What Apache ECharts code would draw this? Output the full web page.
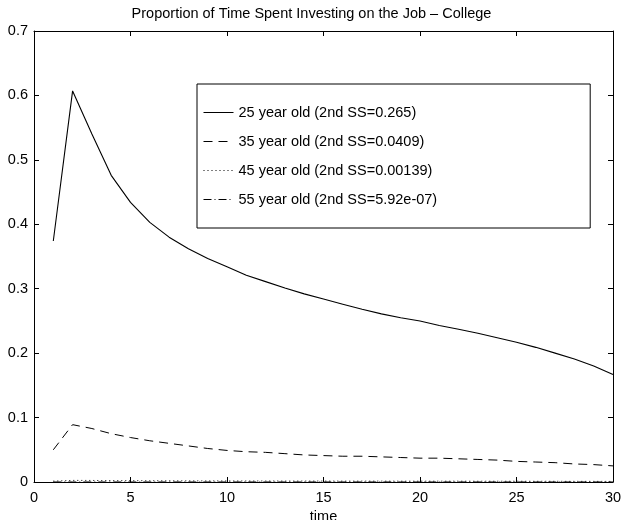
<!DOCTYPE html>
<html>
<head>
<meta charset="utf-8">
<script src="https://cdn.jsdelivr.net/npm/echarts@6/dist/echarts.min.js"></script>
<style>
html,body{margin:0;padding:0;background:#fff;}
#chart{width:623px;height:520px;}
</style>
</head>
<body>
<div id="chart"></div>
<script>
// Periods 1..30
const time = [1,2,3,4,5,6,7,8,9,10,11,12,13,14,15,16,17,18,19,20,21,22,23,24,25,26,27,28,29,30];

const age25 = [0.374,0.607,0.540,0.476,0.434,0.403,0.380,0.362,0.347,0.334,0.321,0.311,0.301,0.292,0.284,0.276,0.268,0.261,0.255,0.250,0.243,0.237,0.231,0.224,0.217,0.209,0.200,0.191,0.180,0.167];
const age35 = [0.050,0.089,0.083,0.075,0.069,0.064,0.060,0.056,0.052,0.049,0.047,0.046,0.044,0.042,0.041,0.040,0.040,0.039,0.038,0.037,0.037,0.036,0.035,0.034,0.032,0.031,0.030,0.028,0.027,0.025];
const age45 = [0.0014,0.0025,0.0024,0.0022,0.0021,0.0020,0.0019,0.0018,0.0017,0.0017,0.0016,0.0016,0.0015,0.0015,0.0015,0.0014,0.0014,0.0014,0.0013,0.0013,0.0013,0.0013,0.0012,0.0012,0.0012,0.0011,0.0011,0.0010,0.0010,0.0009];
const age55 = [0.0000006,0.000001,0.000001,0.000001,0.0000009,0.0000009,0.0000008,0.0000008,0.0000008,0.0000007,0.0000007,0.0000007,0.0000007,0.0000007,0.0000006,0.0000006,0.0000006,0.0000006,0.0000006,0.0000006,0.0000006,0.0000006,0.0000005,0.0000005,0.0000005,0.0000005,0.0000005,0.0000005,0.0000004,0.0000004];

const seriesNames = [
  '25 year old (2nd SS=0.265)',
  '35 year old (2nd SS=0.0409)',
  '45 year old (2nd SS=0.00139)',
  '55 year old (2nd SS=5.92e-07)'
];
const xTicks = [0,5,10,15,20,25,30];
const yTicks = [0,0.1,0.2,0.3,0.4,0.5,0.6,0.7];

const FONT = 'Liberation Sans, Arial, Helvetica, sans-serif';
const FS = 14.5;
const pairs = arr => time.map((t,i)=>[t,arr[i]]);

const baseAxisStyle = {
  axisLine:{show:true,onZero:false,lineStyle:{color:'#000',width:1}},
  axisTick:{show:true,inside:true,length:5,lineStyle:{color:'#000'}},
  splitLine:{show:false}
};

const chart = echarts.init(document.getElementById('chart'), null, {renderer:'canvas'});
chart.setOption({
  animation:false,
  backgroundColor:'#fff',
  title:{
    text:'Proportion of Time Spent Investing on the Job \u2013 College',
    left:'center', top:1,
    textStyle:{fontFamily:FONT,fontSize:FS,fontWeight:'normal',color:'#000'}
  },
  grid:{left:34,right:10,top:31,bottom:38,containLabel:false,outerBoundsMode:'none'},
  legend:{
    orient:'vertical',
    left:197, top:84,
    padding:[21,153,21,6],
    itemGap:14,
    itemWidth:30, itemHeight:14,
    borderColor:'#000', borderWidth:1,
    backgroundColor:'#fff',
    textStyle:{fontFamily:FONT,fontSize:FS,color:'#000'},
    lineStyle:{width:1},
    itemStyle:{opacity:0},
    data:seriesNames,
    selectedMode:false
  },
  xAxis:[
    Object.assign({type:'value',min:0,max:30,interval:5,position:'bottom',
      name:'time',nameLocation:'middle',nameGap:25,
      nameTextStyle:{fontFamily:FONT,fontSize:FS,color:'#000'},
      axisLabel:{fontFamily:FONT,fontSize:FS,color:'#000',margin:8,
        formatter:v=>{const t=xTicks.find(k=>k===v);return t!==undefined?String(t):'';}}}, baseAxisStyle),
    Object.assign({type:'value',min:0,max:30,interval:5,position:'top',
      axisLabel:{show:false}}, baseAxisStyle)
  ],
  yAxis:[
    Object.assign({type:'value',min:0,max:0.7,interval:0.1,position:'left',
      axisLabel:{fontFamily:FONT,fontSize:FS,color:'#000',margin:6,
        formatter:v=>{const t=yTicks.find(k=>Math.abs(k-v)<1e-9);return t===0?'0':(t!==undefined?t.toFixed(1):'');}}}, baseAxisStyle),
    Object.assign({type:'value',min:0,max:0.7,interval:0.1,position:'right',
      axisLabel:{show:false}}, baseAxisStyle)
  ],
  series:[
    {name:seriesNames[0],type:'line',data:pairs(age25),symbol:'none',
      lineStyle:{color:'#000',width:1.1,type:'solid'},itemStyle:{color:'#000'}},
    {name:seriesNames[1],type:'line',data:pairs(age35),symbol:'none',
      lineStyle:{color:'#000',width:1,type:[9,6]},itemStyle:{color:'#000'}},
    {name:seriesNames[2],type:'line',data:pairs(age45),symbol:'none',
      lineStyle:{color:'#000',width:1,type:[1,3]},itemStyle:{color:'#000'}},
    {name:seriesNames[3],type:'line',data:pairs(age55),symbol:'none',
      lineStyle:{color:'#000',width:1,type:[8,3,1,3]},itemStyle:{color:'#000'}}
  ]
});
</script>
</body>
</html>
